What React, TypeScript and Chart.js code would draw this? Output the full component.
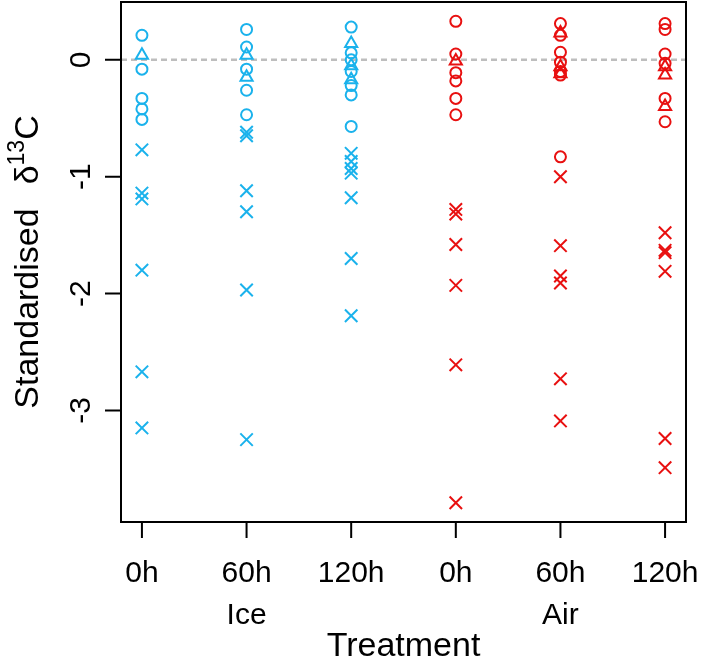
import React, { useEffect, useRef } from 'react';
import { Chart, registerables } from 'chart.js';
Chart.register(...registerables);

// ---- data ----
const categories = ['0h', '60h', '120h', '0h', '60h', '120h'];
const groupLabels = ['Ice', 'Air'];
const yTicks = [0, -1, -2, -3];
const xTitle = 'Treatment';

// values per timepoint (0h, 60h, 120h)
const iceCircles = [
  [0.21, -0.08, -0.33, -0.42, -0.51],
  [0.26, 0.11, -0.08, -0.26, -0.47],
  [0.28, 0.06, 0.0, -0.1, -0.22, -0.3, -0.57],
];
const iceTriangles = [
  [0.04],
  [0.04, -0.15],
  [0.14, -0.05, -0.17],
];
const iceCrosses = [
  [-0.77, -1.14, -1.19, -1.8, -2.67, -3.15],
  [-0.62, -0.65, -1.12, -1.3, -1.97, -3.25],
  [-0.8, -0.87, -0.93, -0.97, -1.18, -1.7, -2.19],
];
const airCircles = [
  [0.33, 0.05, -0.11, -0.18, -0.33, -0.47],
  [0.31, 0.21, 0.065, -0.02, -0.1, -0.13, -0.83],
  [0.31, 0.26, 0.05, -0.03, -0.33, -0.53],
];
const airTriangles = [
  [-0.01],
  [0.23, -0.06, -0.12],
  [-0.06, -0.13, -0.4],
];
const airCrosses = [
  [-1.28, -1.32, -1.58, -1.93, -2.61, -3.79],
  [-1.0, -1.59, -1.85, -1.91, -2.73, -3.09],
  [-1.48, -1.63, -1.65, -1.81, -3.24, -3.49],
];

const BLUE = '#1AB2EC';
const RED = '#E81010';
const FONT = '"Liberation Sans", Arial, sans-serif';
const TICK_FS = 30;
const TITLE_FS = 34;

function toPoints(groups: number[][], offset: number) {
  const pts: { x: number; y: number }[] = [];
  groups.forEach((vals, i) => vals.forEach((v) => pts.push({ x: i + 1 + offset, y: v })));
  return pts;
}

function ds(data: { x: number; y: number }[], color: string, style: string, radius: number) {
  return {
    data,
    showLine: false,
    pointStyle: style,
    pointRadius: radius,
    pointHoverRadius: radius,
    pointBorderWidth: 2,
    pointBorderColor: color,
    pointBackgroundColor: 'rgba(0,0,0,0)',
    borderColor: color,
    backgroundColor: 'rgba(0,0,0,0)',
  };
}

const rAxesPlugin = {
  id: 'rAxes',
  beforeDatasetsDraw(chart: any) {
    const { ctx, chartArea: a, scales } = chart;
    const py = scales.y.getPixelForValue(0);
    ctx.save();
    ctx.strokeStyle = '#BEBEBE';
    ctx.lineWidth = 2.5;
    ctx.setLineDash([6, 4]);
    ctx.beginPath();
    ctx.moveTo(a.left, py);
    ctx.lineTo(a.right, py);
    ctx.stroke();
    ctx.restore();
  },
  afterDraw(chart: any) {
    const { ctx, chartArea: a, scales } = chart;
    const x = scales.x;
    const y = scales.y;
    ctx.save();
    ctx.strokeStyle = '#000';
    ctx.lineWidth = 2;
    ctx.strokeRect(a.left, a.top, a.right - a.left, a.bottom - a.top);
    ctx.beginPath();
    categories.forEach((_, i) => {
      const px = x.getPixelForValue(i + 1);
      ctx.moveTo(px, a.bottom);
      ctx.lineTo(px, a.bottom + 16);
    });
    yTicks.forEach((v) => {
      const p = y.getPixelForValue(v);
      ctx.moveTo(a.left, p);
      ctx.lineTo(a.left - 16, p);
    });
    ctx.stroke();

    ctx.fillStyle = '#000';
    ctx.font = `${TICK_FS}px ${FONT}`;
    ctx.textAlign = 'center';
    ctx.textBaseline = 'alphabetic';
    categories.forEach((c, i) => ctx.fillText(c, x.getPixelForValue(i + 1), a.bottom + 60));
    groupLabels.forEach((g, gi) => ctx.fillText(g, x.getPixelForValue(gi * 3 + 2), a.bottom + 102));
    yTicks.forEach((v) => {
      const p = y.getPixelForValue(v);
      ctx.save();
      ctx.translate(a.left - 31, p);
      ctx.rotate(-Math.PI / 2);
      ctx.fillText(String(v), 0, 0);
      ctx.restore();
    });

    ctx.font = `${TITLE_FS}px ${FONT}`;
    ctx.fillText(xTitle, (a.left + a.right) / 2, a.bottom + 134);

    // y title: Standardised  δ^13 C
    const partMain = 'Standardised';
    const gap = 24;
    const supFs = Math.round(TITLE_FS * 0.68);
    ctx.font = `${TITLE_FS}px ${FONT}`;
    const wMain = ctx.measureText(partMain).width;
    const wDelta = ctx.measureText('δ').width;
    const wC = ctx.measureText('C').width;
    ctx.font = `${supFs}px ${FONT}`;
    const wSup = ctx.measureText('13').width;
    const total = wMain + gap + wDelta + wSup + wC;
    const cy = (a.top + a.bottom) / 2;
    ctx.save();
    ctx.translate(38, cy);
    ctx.rotate(-Math.PI / 2);
    ctx.textAlign = 'left';
    let cx = -total / 2;
    ctx.font = `${TITLE_FS}px ${FONT}`;
    ctx.fillText(partMain, cx, 0);
    cx += wMain + gap;
    ctx.fillText('δ', cx, 0);
    cx += wDelta;
    ctx.font = `${supFs}px ${FONT}`;
    ctx.fillText('13', cx, -TITLE_FS * 0.42);
    cx += wSup;
    ctx.font = `${TITLE_FS}px ${FONT}`;
    ctx.fillText('C', cx, 0);
    ctx.restore();

    ctx.restore();
  },
};

export default function App() {
  const ref = useRef<HTMLCanvasElement>(null);
  useEffect(() => {
    if (!ref.current) return;
    const chart = new Chart(ref.current, {
      type: 'scatter',
      data: {
        datasets: [
          ds(toPoints(iceCircles, 0), BLUE, 'circle', 5.5),
          ds(toPoints(iceTriangles, 0), BLUE, 'triangle', 7),
          ds(toPoints(iceCrosses, 0), BLUE, 'crossRot', 8.8),
          ds(toPoints(airCircles, 3), RED, 'circle', 5.5),
          ds(toPoints(airTriangles, 3), RED, 'triangle', 7),
          ds(toPoints(airCrosses, 3), RED, 'crossRot', 8.8),
        ] as any,
      },
      options: {
        responsive: false,
        animation: false,
        events: [],
        layout: { autoPadding: false, padding: { left: 121, right: 16, top: 2, bottom: 137 } },
        plugins: { legend: { display: false }, tooltip: { enabled: false } },
        scales: {
          x: { type: 'linear', min: 0.8, max: 6.2, display: false },
          y: { type: 'linear', min: -3.955, max: 0.495, display: false },
        },
      },
      plugins: [rAxesPlugin],
    });
    return () => chart.destroy();
  }, []);
  return (
    <div style={{ position: 'absolute', left: 0, top: 0, width: 702, height: 659, background: '#fff' }}>
      <canvas ref={ref} width={702} height={659} style={{ width: 702, height: 659 }} />
    </div>
  );
}
